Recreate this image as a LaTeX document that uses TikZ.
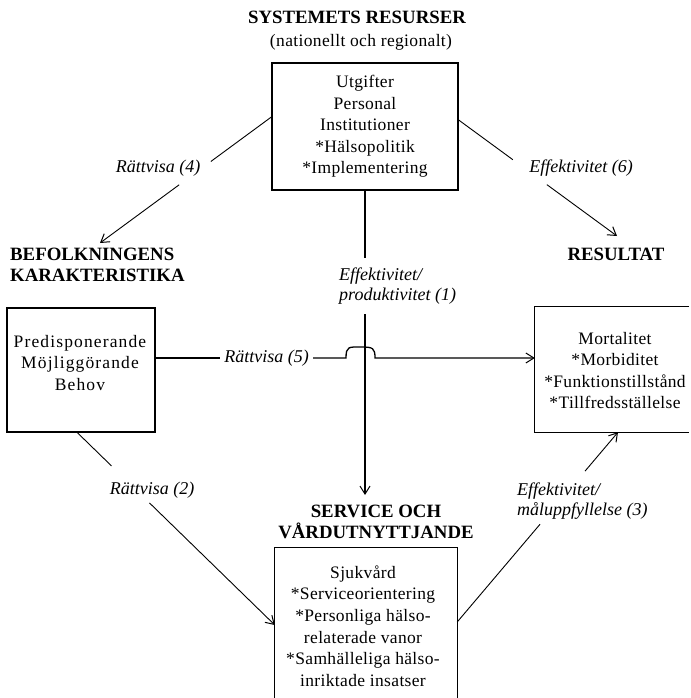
\documentclass[tikz,border=0pt]{standalone}
\usepackage{fontspec}
\setmainfont{Liberation Serif}
\newfontfamily\bodyfont{Liberation Serif}[LetterSpace=2]
\newfontfamily\widefont{Liberation Serif}[LetterSpace=6.5]
\usetikzlibrary{arrows.meta,calc}
\begin{document}
\begin{tikzpicture}[x=1pt,y=-1pt,
  frame/.style={inner sep=0pt},
  boxdraw/.style={line width=1.3pt},
  txt/.style={font=\bodyfont\fontsize{17.5}{21.6}\selectfont, align=center, inner sep=0pt},
  widetxt/.style={txt, font=\widefont\fontsize{17.5}{21.2}\selectfont},
  hd/.style={font=\bfseries\fontsize{18.8}{20.5}\selectfont, align=center, inner sep=0pt},
  lab/.style={font=\itshape\fontsize{18}{20.5}\selectfont, inner sep=0pt},
  con/.style={line width=0.9pt},
  thick con/.style={line width=1.3pt},
  arr/.style={-{Straight Barb[length=8pt,width=10pt,line width=1pt]}}]
\useasboundingbox (0,0) rectangle (690,698);

% headings
\node[hd] (t1) at (357,17) {SYSTEMETS RESURSER};
\node[txt] (t2) at (361,42) {(nationellt och regionalt)};
\node[hd, align=left, anchor=west] (hbef) at (10,265) {BEFOLKNINGENS\\KARAKTERISTIKA};
\node[hd] (hres) at (616,254) {RESULTAT};
\node[hd] (hsvc) at (376,522) {SERVICE OCH\\VÅRDUTNYTTJANDE};

% top box
\node[txt, draw, boxdraw, minimum width=186pt, minimum height=127pt] (sys) at (365,126.5)
  {Utgifter\\Personal\\Institutioner\\*Hälsopolitik\\*Implementering};

% left box
\node[frame, draw, boxdraw, minimum width=148pt, minimum height=124pt] (bef) at (81,370) {};
\node[widetxt] (beft) at (80,363) {Predisponerande\\Möjliggörande\\Behov};

% right box (open on the right)
\node[frame, minimum width=154pt, minimum height=125pt] (rb) at (612,369.5) {};
\draw[boxdraw] (rb.north east) -- (rb.north west) -- (rb.south west) -- (rb.south east);
\node[txt] (rbt) at (615,370.5) {Mortalitet\\*Morbiditet\\*Funktionstillstånd\\*Tillfredsställelse};

% service box (continues below the picture)
\node[frame, minimum width=182pt, minimum height=150pt] (svc) at (366,623) {};
\draw[boxdraw] (svc.south west) -- (svc.north west) -- (svc.north east) -- (svc.south east);
\node[txt] (svct) at (363,626) {Sjukvård\\*Serviceorientering\\*Personliga hälso-\\relaterade vanor\\*Samhälleliga hälso-\\inriktade insatser};

% labels
\node[lab] (l4) at (158,168) {Rättvisa (4)};
\node[lab] (l6) at (581,168) {Effektivitet (6)};
\node[lab, align=left, anchor=west] (l1) at (339,286) {Effektivitet/\\produktivitet (1)};
\node[lab, anchor=east] (l5) at (309,358) {Rättvisa (5)};
\node[lab] (l2) at (152,490) {Rättvisa (2)};
\node[lab, align=left, anchor=west] (l3) at (517,501) {Effektivitet/\\måluppfyllelse (3)};

% connector (4)
\coordinate (s4) at ([yshift=9.5pt]sys.west);
\coordinate (t4) at (100,243);
\draw[con] (s4) -- ($(s4)!0.353!(t4)$);
\draw[con,arr] ($(s4)!0.538!(t4)$) -- (t4);

% connector (6)
\coordinate (s6) at ([yshift=6.5pt]sys.east);
\coordinate (t6) at (617,236);
\draw[con] (s6) -- ($(s6)!0.342!(t6)$);
\draw[con,arr] ($(s6)!0.557!(t6)$) -- (t6);

% connector (1)
\coordinate (t1a) at (sys.south |- 0,258);
\coordinate (t1b) at (sys.south |- 0,314);
\coordinate (t1c) at (sys.south |- 0,495);
\draw[thick con] (sys.south) -- (t1a);
\draw[thick con,arr] (t1b) -- (t1c);

% connector (5) with bridge over (1)
\coordinate (hy) at (0,358);
\draw[thick con] (bef.east |- hy) -- ([xshift=-4pt]l5.west |- hy);
\draw[thick con,arr] ([xshift=4pt]l5.east |- hy) -- (346,358)
  .. controls (346,346) and (349,347) .. (361,347)
  .. controls (373,347) and (375,348) .. (375,358)
  -- (rb.west |- hy);

% connector (2)
\coordinate (s2) at ([xshift=71pt]bef.south west);
\coordinate (t2) at (svc.west |- 0,625);
\draw[con] (s2) -- ($(s2)!0.173!(t2)$);
\draw[con,arr] ($(s2)!0.365!(t2)$) -- (t2);

% connector (3)
\coordinate (s3) at (svc.east |- 0,622);
\coordinate (t3) at (rb.south west -| 618,0);
\draw[con] (s3) -- ($(s3)!0.515!(t3)$);
\draw[con,arr] ($(s3)!0.795!(t3)$) -- (t3);
\end{tikzpicture}
\end{document}
